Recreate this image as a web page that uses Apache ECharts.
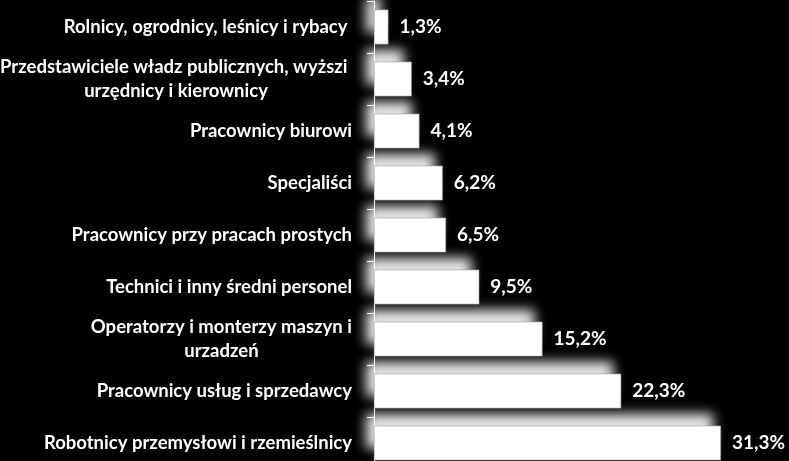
<!DOCTYPE html>
<html>
<head>
<meta charset="utf-8">
<script src="https://cdn.jsdelivr.net/npm/echarts@6/dist/echarts.min.js"></script>
<style>
html,body{margin:0;padding:0;background:#000;}
#chart{width:789px;height:461px;}
</style>
</head>
<body>
<div id="chart"></div>
<script>
const categories = [
  "Rolnicy, ogrodnicy, leśnicy i rybacy ",
  "Przedstawiciele władz publicznych, wyższi \nurzędnicy i kierownicy",
  "Pracownicy biurowi",
  "Specjaliści",
  "Pracownicy przy pracach prostych",
  "Technici i inny średni personel",
  "Operatorzy i monterzy maszyn i\nurzadzeń",
  "Pracownicy usług i sprzedawcy",
  "Robotnicy przemysłowi i rzemieślnicy"
];
const values = [1.3, 3.4, 4.1, 6.2, 6.5, 9.5, 15.2, 22.3, 31.3];

const chart = echarts.init(document.getElementById('chart'), null, {renderer: 'canvas'});
const FONT = 'Lato';
chart.setOption({
  backgroundColor: '#000',
  animation: false,
  grid: {left: 374, top: 1, width: 388, height: 468, containLabel: false, outerBoundsMode: 'none'},
  xAxis: {
    type: 'value', min: 0, max: 35,
    show: false
  },
  yAxis: {
    type: 'category',
    data: categories,
    inverse: true,
    axisLine: {show: true, lineStyle: {color: '#fff', width: 1}},
    axisTick: {show: true, length: 7, lineStyle: {color: '#fff', width: 1}},
    axisLabel: {
      margin: 22, align: 'right',
      formatter: v => v.split('\n').map(l => '{c|' + l + '}').join('\n'),
      rich: {
        c: {color: '#fff', fontFamily: FONT, fontWeight: 'bold', fontSize: 18.5,
            lineHeight: 24, align: 'center'}
      }
    }
  },
  series: [{
    type: 'bar',
    data: values,
    barCategoryGap: '33%',
    itemStyle: {
      color: '#fff',
      borderColor: '#999', borderWidth: 0.6,
      shadowColor: 'rgba(255,255,255,0.9)',
      shadowBlur: 12,
      shadowOffsetY: -12,
      shadowOffsetX: -8
    },
    label: {
      show: true, position: 'right', distance: 11,
      color: '#fff', fontFamily: FONT, fontWeight: 'bold', fontSize: 19,
      formatter: p => p.value.toFixed(1).replace('.', ',') + '%'
    }
  }]
});
</script>
</body>
</html>
